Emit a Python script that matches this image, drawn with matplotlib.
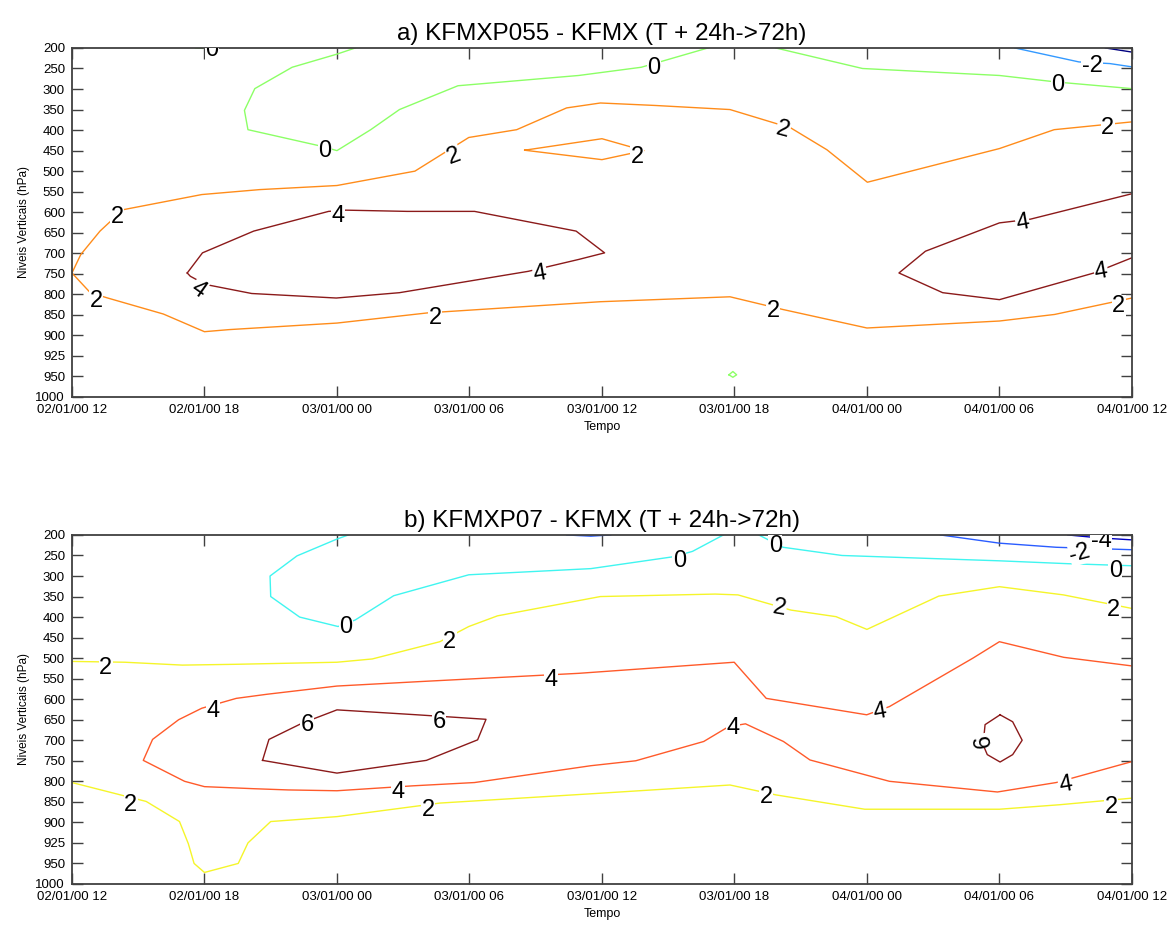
import numpy as np
import matplotlib.pyplot as plt

plt.rcParams['font.family'] = ['Liberation Sans', 'DejaVu Sans']

# eixo vertical: niveis de pressao (espacamento por indice, como no original)
niveis = [200, 250, 300, 350, 400, 450, 500, 550, 600, 650, 700, 750,
          800, 850, 900, 925, 950, 1000]
# eixo do tempo em horas desde 02/01/00 12
horas = [0, 6, 12, 18, 24, 30, 36, 42, 48]
datas = ['02/01/00 12', '02/01/00 18', '03/01/00 00', '03/01/00 06',
         '03/01/00 12', '03/01/00 18', '04/01/00 00', '04/01/00 06',
         '04/01/00 12']

# ---- painel a) KFMXP055 - KFMX ----
a_m4_h = [46.8, 48]
a_m4_p = [200, 210]
a_m2_h = [42.7, 45.6, 47.0, 48]
a_m2_p = [200, 234, 238, 246]
a_0a_h = [5.6, 5.9]
a_0a_p = [200, 201]
a_0b_h = [12.83, 12.0, 9.97, 8.28, 7.81, 7.97, 11.27, 12.0, 13.53, 14.83,
          17.48, 22.95, 25.78, 28.8]
a_0b_p = [200, 215, 247, 299, 352, 399, 439, 450, 399, 350, 292, 267, 247, 200]
a_0c_h = [31.87, 35.8, 42.0, 44.6, 48]
a_0c_p = [200, 250, 267, 283, 299]
a_0d_h = [29.75, 29.93, 30.1, 29.93, 29.75]
a_0d_p = [948, 944, 948, 952, 948]
a_2a_h = [48, 44.48, 42.0, 36.02, 34.19, 32.56, 29.8, 26.4, 23.93, 22.4,
          20.14, 17.97, 15.53, 12.0, 8.49, 5.88, 2.31, 1.27, 0.4, 0,
          0.83, 1.62, 4.14, 6.0, 7.1, 12.0, 16.14, 23.93, 29.8, 32.2, 36.0,
          42.0, 44.5, 48]
a_2a_p = [380, 399, 445, 527, 448, 395, 350, 340, 334, 346,
          399, 418, 500, 535, 545, 557, 594, 646, 703, 748,
          796, 809, 848, 891, 886, 870, 845, 818, 806, 837, 882,
          865, 849, 809]
a_2b_h = [20.5, 24.0, 25.9, 24.0, 20.5]
a_2b_p = [449, 421, 450, 472, 449]
a_4a_h = [5.22, 5.91, 8.23, 11.62, 12.4, 15.18, 18.23, 22.83, 24.12, 22.95,
          20.66, 14.83, 11.97, 8.14, 6.05, 5.36, 5.22]
a_4a_p = [748, 699, 646, 598, 595, 598, 598, 646, 699, 715,
          744, 796, 809, 798, 776, 756, 748]
a_4b_h = [48, 43.4, 42, 38.65, 37.45, 39.43, 42, 46.28, 48]
a_4b_p = [555, 617, 626, 695, 748, 796, 813, 748, 711]

linhas_a = [(-4, a_m4_h, a_m4_p), (-2, a_m2_h, a_m2_p), (0, a_0a_h, a_0a_p),
            (0, a_0b_h, a_0b_p), (0, a_0c_h, a_0c_p), (0, a_0d_h, a_0d_p),
            (2, a_2a_h, a_2a_p), (2, a_2b_h, a_2b_p), (4, a_4a_h, a_4a_p),
            (4, a_4b_h, a_4b_p)]
cores_a = {-4: '#00007f', -2: '#3399ff', 0: '#8cff66', 2: '#ff8c1a',
           4: '#8b1a1a'}

rot_a_val = [0, 0, 0, 0, -2, 2, 2, 2, 2, 2, 2, 2, 2, 2, 4, 4, 4, 4, 4]
rot_a_h = [6.35, 11.45, 26.35, 44.65, 46.2, 2.05, 17.3, 25.6, 32.2, 46.9,
           1.1, 16.45, 31.75, 47.4, 12.05, 21.2, 5.7, 43.05, 46.6]
rot_a_p = [204, 452, 249, 291, 245, 612, 463, 465, 400, 395,
           816, 858, 841, 829, 610, 751, 789, 626, 745]
rot_a_ang = [0, 0, 0, 0, 0, 0, 20, 0, -15, 0,
             0, 0, 0, 0, 0, 10, -35, 10, 10]

# ---- painel b) KFMXP07 - KFMX ----
b_m4_h = [45.1, 46.5, 48]
b_m4_p = [200, 207, 212]
b_m2a_h = [22.4, 23.5, 24.4]
b_m2a_p = [200, 203, 200]
b_m2b_h = [39.33, 42.0, 44.57, 48]
b_m2b_p = [200, 220, 230, 236]
b_0a_h = [12.52, 12.0, 10.19, 8.97, 9.0, 10.31, 12.05, 12.83, 14.57, 17.97,
          23.5, 27.24, 28.1, 29.5]
b_0a_p = [200, 210, 251, 300, 350, 400, 423, 407, 348, 297, 282, 253, 240, 200]
b_0b_h = [31.1, 32.2, 34.87, 42.0, 45.1, 48]
b_0b_p = [200, 230, 250, 263, 270, 275]
b_2a_h = [0, 2.4, 5.0, 7.44, 12.0, 13.6, 16.66, 17.97, 19.27, 23.93, 29.13,
          30.16, 32.56, 34.6, 36.0, 39.25, 42.0, 44.9, 48]
b_2a_p = [508, 510, 517, 515, 510, 502, 460, 423, 397, 350, 344,
          346, 383, 399, 430, 349, 326, 346, 379]
b_2b_h = [0, 3.36, 4.87, 5.27, 5.53, 6.0, 7.53, 7.97, 9.0, 12.0, 16.66,
          23.93, 29.8, 31.87, 35.9, 42.0, 44.74, 48]
b_2b_p = [803, 849, 898, 926, 950, 972, 950, 925, 898, 886, 853,
          829, 809, 833, 868, 868, 857, 841]
b_4_h = [48, 44.91, 42.0, 40.8, 37.02, 35.99, 31.44, 29.99, 22.95, 15.8,
         12.0, 8.83, 7.44, 5.88, 4.83, 3.65, 3.23, 5.1, 6.0, 8.23, 9.79,
         12.0, 15.44, 18.23, 23.5, 25.53, 28.61, 29.73, 30.5, 32.22, 33.42,
         37.02, 41.91, 44.57, 48]
b_4_p = [519, 498, 460, 500, 618, 638, 598, 510, 537, 557,
         568, 588, 598, 622, 650, 698, 749, 800, 813, 818, 821,
         823, 811, 803, 762, 750, 703, 667, 660, 703, 748,
         800, 826, 803, 752]
b_6a_h = [8.63, 8.92, 10.4, 12.0, 15.62, 18.75, 18.37, 16.05, 12.0, 8.63]
b_6a_p = [749, 698, 659, 626, 638, 649, 699, 749, 780, 749]
b_6b_h = [42.03, 42.6, 43.03, 42.6, 42.03, 41.45, 41.26, 41.35, 42.03]
b_6b_p = [638, 655, 700, 735, 753, 735, 711, 662, 638]

linhas_b = [(-4, b_m4_h, b_m4_p), (-2, b_m2a_h, b_m2a_p),
            (-2, b_m2b_h, b_m2b_p), (0, b_0a_h, b_0a_p), (0, b_0b_h, b_0b_p),
            (2, b_2a_h, b_2a_p), (2, b_2b_h, b_2b_p), (4, b_4_h, b_4_p),
            (6, b_6a_h, b_6a_p), (6, b_6b_h, b_6b_p)]
cores_b = {-4: '#0000c0', -2: '#2a5cff', 0: '#40f5f0', 2: '#f5f52a',
           4: '#ff5a2a', 6: '#8b1a1a'}

rot_b_val = [-4, -2, 0, 0, 0, 0, 2, 2, 2, 2, 2, 2, 2, 2,
             4, 4, 4, 4, 4, 4, 6, 6, 6]
rot_b_h = [46.6, 45.65, 12.4, 27.5, 31.85, 47.25, 1.53, 17.1, 32.04, 47.17,
           2.66, 16.14, 31.44, 47.05, 6.37, 21.7, 14.75, 36.59, 29.95, 44.99,
           10.66, 16.63, 41.3]
rot_b_p = [215, 244, 424, 263, 226, 288, 525, 460, 379, 383,
           857, 870, 839, 862, 628, 553, 825, 630, 671, 809,
           662, 655, 700]
rot_b_ang = [0, 15, 0, 0, 0, 0, 0, 0, -10, 0,
             0, 0, 0, 0, 0, 0, 0, 10, 0, 10,
             0, 0, 100]


def fwd(p):
    return np.interp(p, niveis, np.arange(len(niveis)))


def inv(i):
    return np.interp(i, np.arange(len(niveis)), niveis)


def painel(ax, titulo, linhas, cores, vals, hs, ps, angs):
    ax.set_yscale('function', functions=(fwd, inv))
    for v, h, p in linhas:
        ax.plot(h, p, color=cores[v], lw=1.0)
    for v, h, p, a in zip(vals, hs, ps, angs):
        ax.text(h, p, str(v), fontsize=17, rotation=a, ha='center',
                va='center', clip_on=True,
                bbox=dict(facecolor='white', edgecolor='none', pad=0.3))
    ax.set_xlim(0, 48)
    ax.set_ylim(1000, 200)
    ax.set_xticks(horas)
    ax.set_xticklabels(datas, fontsize=9.5)
    ax.set_yticks(niveis)
    ax.set_yticklabels([str(n) for n in niveis], fontsize=9.5)
    ax.minorticks_off()
    ax.tick_params(direction='in', top=True, right=True, length=8,
                   width=1, color='#404040', pad=5)
    for s in ax.spines.values():
        s.set_color('#404040')
        s.set_linewidth(1.3)
    ax.set_title(titulo, fontsize=17.5, pad=6)
    ax.set_xlabel('Tempo', fontsize=9, labelpad=4)
    ax.set_ylabel('Niveis Verticais (hPa)', fontsize=8.5, labelpad=4)


fig = plt.figure(figsize=(11.72, 9.26), dpi=100)
ax1 = fig.add_axes([0.0614, 0.5713, 0.9044, 0.3769])
ax2 = fig.add_axes([0.0614, 0.0454, 0.9044, 0.3769])

painel(ax1, 'a) KFMXP055 - KFMX (T + 24h->72h)', linhas_a, cores_a,
       rot_a_val, rot_a_h, rot_a_p, rot_a_ang)
painel(ax2, 'b) KFMXP07 - KFMX (T + 24h->72h)', linhas_b, cores_b,
       rot_b_val, rot_b_h, rot_b_p, rot_b_ang)

fig.savefig('out.png', dpi=100)
